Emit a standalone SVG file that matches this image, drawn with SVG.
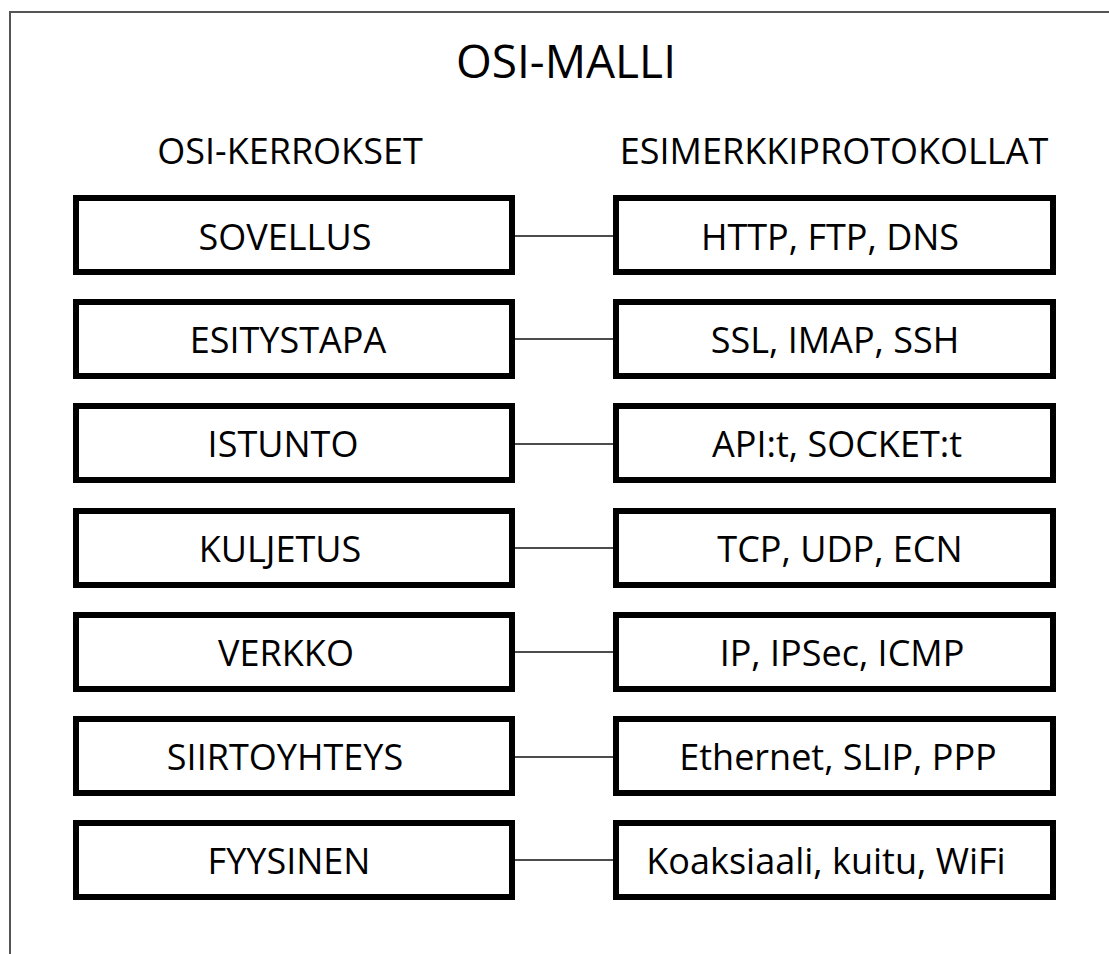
<svg xmlns="http://www.w3.org/2000/svg" width="1109" height="954" viewBox="0 0 1109 954">
  <style>
    .frame { fill: none; stroke: #555; stroke-width: 2; }
    .box { fill: #fff; stroke: #000; stroke-width: 6; }
    .link { stroke: #111; stroke-width: 1.6; fill: none; }
    text { font-family: "Open Sans", "Liberation Sans", sans-serif; fill: #000; text-anchor: middle; }
    .title { font-size: 46px; }
    .head { font-size: 36px; }
    .label { font-size: 36px; }
  </style>

  <rect width="1109" height="954" fill="#fff"/>
  <rect class="frame" x="10" y="12" width="1120" height="970"/>

  <text class="title" x="566" y="78">OSI-MALLI</text>
  <text class="head" x="290" y="164">OSI-KERROKSET</text>
  <text class="head" x="834" y="164">ESIMERKKIPROTOKOLLAT</text>

  <!-- connectors between layer boxes and protocol boxes -->
  <g id="connectors">
    <line class="link" x1="515" y1="236" x2="613" y2="236"/>
    <line class="link" x1="515" y1="339" x2="613" y2="339"/>
    <line class="link" x1="515" y1="444" x2="613" y2="444"/>
    <line class="link" x1="515" y1="548" x2="613" y2="548"/>
    <line class="link" x1="515" y1="652" x2="613" y2="652"/>
    <line class="link" x1="515" y1="757" x2="613" y2="757"/>
    <line class="link" x1="515" y1="860" x2="613" y2="860"/>
  </g>

  <!-- OSI layers -->
  <g id="layer-sovellus">
    <rect class="box" x="76" y="198" width="436" height="74"/>
    <text class="label" x="285" y="250">SOVELLUS</text>
  </g>
  <g id="layer-esitystapa">
    <rect class="box" x="76" y="302" width="436" height="74"/>
    <text class="label" x="288" y="353">ESITYSTAPA</text>
  </g>
  <g id="layer-istunto">
    <rect class="box" x="76" y="406" width="436" height="74"/>
    <text class="label" x="283" y="457">ISTUNTO</text>
  </g>
  <g id="layer-kuljetus">
    <rect class="box" x="76" y="511" width="436" height="74"/>
    <text class="label" x="280" y="562">KULJETUS</text>
  </g>
  <g id="layer-verkko">
    <rect class="box" x="76" y="615" width="436" height="74"/>
    <text class="label" x="286" y="666">VERKKO</text>
  </g>
  <g id="layer-siirtoyhteys">
    <rect class="box" x="76" y="719" width="436" height="74"/>
    <text class="label" x="285" y="770">SIIRTOYHTEYS</text>
  </g>
  <g id="layer-fyysinen">
    <rect class="box" x="76" y="823" width="436" height="74"/>
    <text class="label" x="289" y="874">FYYSINEN</text>
  </g>

  <!-- example protocols -->
  <g id="proto-sovellus">
    <rect class="box" x="616" y="198" width="437" height="74"/>
    <text class="label" x="830" y="250">HTTP, FTP, DNS</text>
  </g>
  <g id="proto-esitystapa">
    <rect class="box" x="616" y="302" width="437" height="74"/>
    <text class="label" x="835" y="353">SSL, IMAP, SSH</text>
  </g>
  <g id="proto-istunto">
    <rect class="box" x="616" y="406" width="437" height="74"/>
    <text class="label" x="837" y="457">API:t, SOCKET:t</text>
  </g>
  <g id="proto-kuljetus">
    <rect class="box" x="616" y="511" width="437" height="74"/>
    <text class="label" x="840" y="562">TCP, UDP, ECN</text>
  </g>
  <g id="proto-verkko">
    <rect class="box" x="616" y="615" width="437" height="74"/>
    <text class="label" x="842" y="666">IP, IPSec, ICMP</text>
  </g>
  <g id="proto-siirtoyhteys">
    <rect class="box" x="616" y="719" width="437" height="74"/>
    <text class="label" x="838" y="770">Ethernet, SLIP, PPP</text>
  </g>
  <g id="proto-fyysinen">
    <rect class="box" x="616" y="823" width="437" height="74"/>
    <text class="label" x="826" y="874">Koaksiaali, kuitu, WiFi</text>
  </g>
</svg>
